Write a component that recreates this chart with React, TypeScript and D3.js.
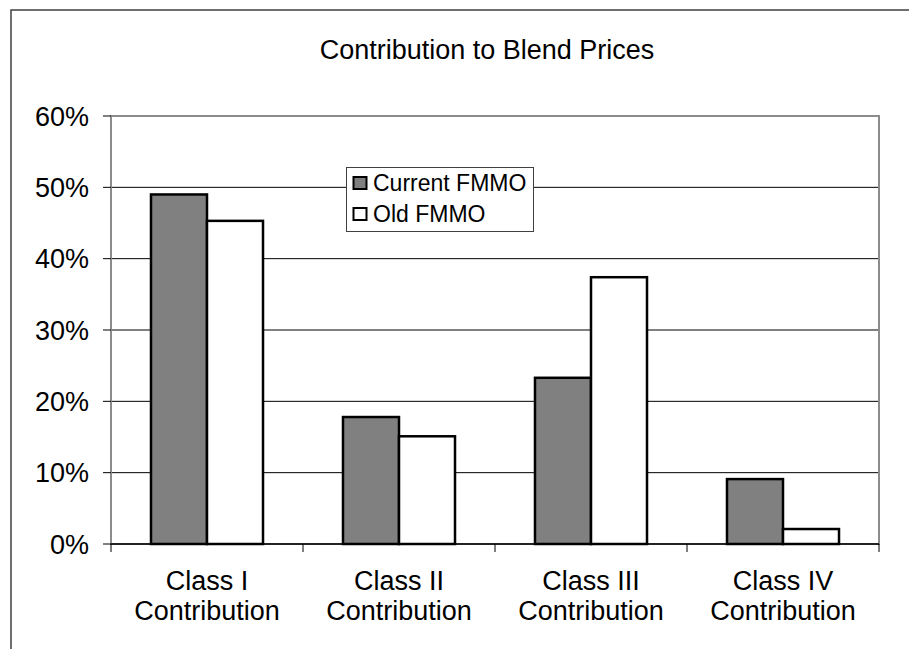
import React from "react";
import * as d3 from "d3";

const categories = ["Class I|Contribution", "Class II|Contribution", "Class III|Contribution", "Class IV|Contribution"];
const seriesNames = ["Current FMMO", "Old FMMO"];
const currentValues = [0.49, 0.178, 0.233, 0.091];
const oldValues = [0.453, 0.151, 0.374, 0.021];
const yTicks = [0, 0.1, 0.2, 0.3, 0.4, 0.5, 0.6];
const title = "Contribution to Blend Prices";

const W = 909;
const H = 649;
const plot = { left: 111, right: 879, top: 116, bottom: 544 };
const FONT = "'Liberation Sans', Arial, Helvetica, sans-serif";
const fills = ["#808080", "#ffffff"];

export default function App() {
  const x0 = d3.scaleBand<string>().domain(categories).range([plot.left, plot.right]).paddingInner(0).paddingOuter(0);
  const groupPad = 0.2083;
  const x1 = d3
    .scaleBand<string>()
    .domain(seriesNames)
    .range([x0.bandwidth() * groupPad, x0.bandwidth() * (1 - groupPad)]);
  const y = d3.scaleLinear().domain([0, 0.6]).range([plot.bottom, plot.top]);
  const fmt = d3.format(".0%");
  const series = [currentValues, oldValues];
  const boundaries = categories.map((c) => x0(c) as number).concat([plot.right]);

  return (
    <svg width={W} height={H} style={{ position: "absolute", left: 0, top: 0, background: "#fff" }} fontFamily={FONT}>
      <rect x={0} y={0} width={W} height={H} fill="#fff" />
      {/* outer chart frame (cut off at right and bottom) */}
      <path d={`M11,${H + 5} L11,10 L${W + 5},10`} fill="none" stroke="#404040" strokeWidth={1.5} />
      {/* title */}
      <text x={487} y={59} textAnchor="middle" fontSize={27} fill="#000">
        {title}
      </text>
      {/* gridlines */}
      {yTicks.slice(1, -1).map((t) => (
        <line key={t} x1={plot.left} x2={plot.right} y1={y(t)} y2={y(t)} stroke="#000" strokeWidth={1} />
      ))}
      {/* plot area border */}
      <rect
        x={plot.left}
        y={plot.top}
        width={plot.right - plot.left}
        height={plot.bottom - plot.top}
        fill="none"
        stroke="#8c8c8c"
        strokeWidth={2}
      />
      {/* y ticks and labels */}
      {yTicks.map((t) => (
        <g key={t}>
          <line x1={plot.left - 8} x2={plot.left} y1={y(t)} y2={y(t)} stroke="#000" strokeWidth={1} />
          <text x={89} y={y(t)} dy="0.36em" textAnchor="end" fontSize={27} fill="#000">
            {fmt(t)}
          </text>
        </g>
      ))}
      {/* bars */}
      {categories.map((c, i) => (
        <g key={c} transform={`translate(${x0(c)},0)`}>
          {seriesNames.map((s, j) => (
            <rect
              key={s}
              x={x1(s)}
              y={y(series[j][i])}
              width={x1.bandwidth()}
              height={plot.bottom - y(series[j][i])}
              fill={fills[j]}
              stroke="#000"
              strokeWidth={2.5}
            />
          ))}
        </g>
      ))}
      {/* x axis */}
      <line x1={plot.left} x2={plot.right} y1={plot.bottom} y2={plot.bottom} stroke="#000" strokeWidth={1.5} />
      {boundaries.map((b, i) => (
        <line key={i} x1={b} x2={b} y1={plot.bottom} y2={plot.bottom + 8} stroke="#000" strokeWidth={1} />
      ))}
      {categories.map((c) => {
        const cx = (x0(c) as number) + x0.bandwidth() / 2;
        const [l1, l2] = c.split("|");
        return (
          <text key={c} textAnchor="middle" fontSize={27} fill="#000">
            <tspan x={cx} y={590}>
              {l1}
            </tspan>
            <tspan x={cx} y={620}>
              {l2}
            </tspan>
          </text>
        );
      })}
      {/* legend */}
      <g>
        <rect x={346.5} y={167.5} width={187} height={64} fill="#fff" stroke="#404040" strokeWidth={1} />
        {seriesNames.map((s, j) => (
          <g key={s} transform={`translate(353,${183 + j * 31})`}>
            <rect x={0.5} y={-6} width={13} height={12} fill={fills[j]} stroke="#000" strokeWidth={2} />
            <text x={20} y={0} dy="0.36em" fontSize={23} fill="#000">
              {s}
            </text>
          </g>
        ))}
      </g>
    </svg>
  );
}
